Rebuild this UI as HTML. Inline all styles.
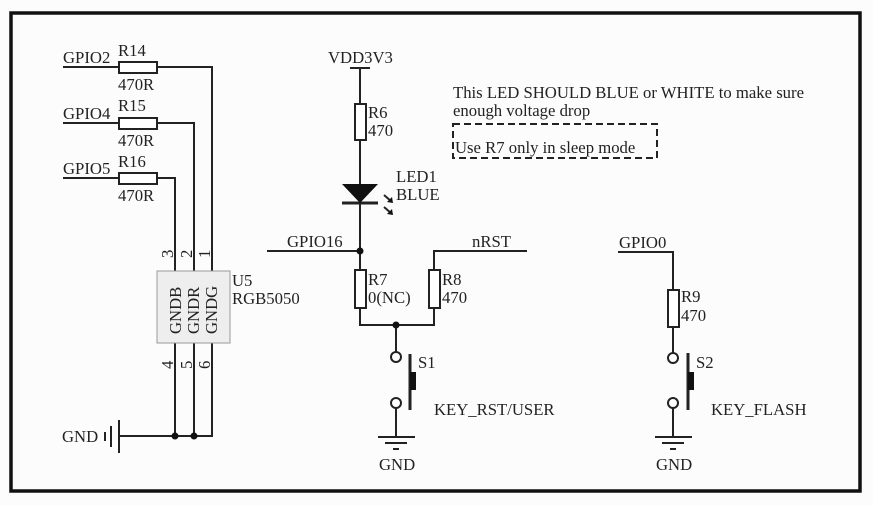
<!DOCTYPE html>
<html><head><style>html,body{margin:0;padding:0;background:#fff;}svg{display:block}</style></head>
<body>
<svg width="873" height="505" viewBox="0 0 873 505" xmlns="http://www.w3.org/2000/svg" font-family="Liberation Serif, serif" font-size="16.7" fill="#222">
<rect x="0" y="0" width="873" height="505" fill="#fcfcfc"/>
<rect x="11" y="13" width="849" height="478" fill="none" stroke="#111" stroke-width="3.5"/>
<g stroke="#222" stroke-width="2" fill="none">
<line x1="63" y1="67" x2="119" y2="67"/><rect x="119" y="62" width="38" height="11" fill="#fff"/><polyline points="157,67 212,67 212,271"/>
<line x1="63" y1="123" x2="119" y2="123"/><rect x="119" y="118" width="38" height="11" fill="#fff"/><polyline points="157,123 194,123 194,271"/>
<line x1="63" y1="178" x2="119" y2="178"/><rect x="119" y="173" width="38" height="11" fill="#fff"/><polyline points="157,178 175,178 175,271"/>
<line x1="175" y1="343" x2="175" y2="436"/><line x1="194" y1="343" x2="194" y2="436"/><polyline points="212,343 212,436 119,436"/>
<line x1="119" y1="420" x2="119" y2="453"/><line x1="111" y1="426" x2="111" y2="447"/><line x1="105" y1="432" x2="105" y2="441"/>
<line x1="350" y1="68" x2="370" y2="68"/><line x1="360" y1="68" x2="360" y2="104"/>
<rect x="355" y="104" width="11" height="36" fill="#fff"/>
<line x1="360" y1="140" x2="360" y2="184"/><line x1="342" y1="203" x2="378" y2="203" stroke-width="3"/>
<line x1="360" y1="203" x2="360" y2="270"/>
<line x1="267" y1="251" x2="360" y2="251"/>
<rect x="355" y="270" width="11" height="38" fill="#fff"/>
<polyline points="360,308 360,325 434,325 434,308"/>
<rect x="429" y="270" width="11" height="38" fill="#fff"/>
<polyline points="434,270 434,251 527,251"/>
<line x1="396" y1="325" x2="396" y2="352"/>
<circle cx="396" cy="357" r="5" fill="#fff"/><circle cx="396" cy="403" r="5" fill="#fff"/>
<line x1="396" y1="408" x2="396" y2="437"/>
<line x1="410" y1="354" x2="410" y2="410" stroke-width="3"/>
<line x1="378" y1="437" x2="415" y2="437"/><line x1="385" y1="443" x2="407" y2="443"/><line x1="393" y1="449" x2="399" y2="449"/>
<polyline points="618,252 673,252 673,290"/>
<rect x="668" y="290" width="11" height="37" fill="#fff"/>
<line x1="673" y1="327" x2="673" y2="353"/>
<circle cx="673" cy="358" r="5" fill="#fff"/><circle cx="673" cy="403" r="5" fill="#fff"/>
<line x1="673" y1="408" x2="673" y2="437"/>
<line x1="688" y1="353" x2="688" y2="410" stroke-width="3"/>
<line x1="655" y1="437" x2="692" y2="437"/><line x1="662" y1="443" x2="684" y2="443"/><line x1="670" y1="449" x2="676" y2="449"/>
<rect x="453" y="124" width="204" height="34" stroke-dasharray="7,4"/>
<line x1="384" y1="195" x2="392" y2="202"/><line x1="384" y1="207" x2="392" y2="214"/>
</g>
<rect x="157" y="271" width="73" height="72" fill="#eee" stroke="#999" stroke-width="1"/>
<polygon points="342,184 378,184 360,203" fill="#111"/>
<polygon points="393,203 387,202 392,197" fill="#111"/><polygon points="393,215 387,214 392,209" fill="#111"/>
<rect x="410" y="372" width="6" height="18" fill="#111"/><rect x="688" y="372" width="6" height="18" fill="#111"/>
<g fill="#111"><circle cx="360" cy="251" r="3.5"/><circle cx="396" cy="325" r="3.5"/><circle cx="175" cy="436" r="3.5"/><circle cx="194" cy="436" r="3.5"/></g>
<text x="63" y="63">GPIO2</text><text x="118" y="56">R14</text><text x="118" y="90">470R</text>
<text x="63" y="119">GPIO4</text><text x="118" y="111">R15</text><text x="118" y="146">470R</text>
<text x="63" y="174">GPIO5</text><text x="118" y="167">R16</text><text x="118" y="201">470R</text>
<text x="232" y="286">U5</text><text x="232" y="304">RGB5050</text>
<text x="62" y="442">GND</text>
<text transform="translate(173,258) rotate(-90)">3</text><text transform="translate(192,258) rotate(-90)">2</text><text transform="translate(210,258) rotate(-90)">1</text>
<text transform="translate(173,369) rotate(-90)">4</text><text transform="translate(192,369) rotate(-90)">5</text><text transform="translate(210,369) rotate(-90)">6</text>
<text transform="translate(181,334) rotate(-90)">GNDB</text><text transform="translate(199,334) rotate(-90)">GNDR</text><text transform="translate(217,334) rotate(-90)">GNDG</text>
<text x="328" y="63">VDD3V3</text>
<text x="368" y="118">R6</text><text x="368" y="136">470</text>
<text x="396" y="182">LED1</text><text x="396" y="200">BLUE</text>
<text x="287" y="247">GPIO16</text><text x="472" y="247">nRST</text>
<text x="368" y="285">R7</text><text x="368" y="303">0(NC)</text>
<text x="442" y="285">R8</text><text x="442" y="303">470</text>
<text x="418" y="368">S1</text><text x="434" y="415">KEY_RST/USER</text>
<text x="379" y="470">GND</text>
<text x="619" y="248">GPIO0</text>
<text x="681" y="302">R9</text><text x="681" y="321">470</text>
<text x="696" y="368">S2</text><text x="711" y="415">KEY_FLASH</text>
<text x="656" y="470">GND</text>
<text x="453" y="98">This LED SHOULD BLUE or WHITE to make sure</text>
<text x="453" y="116">enough voltage drop</text>
<text x="455" y="153">Use R7 only in sleep mode</text>
</svg>
</body></html>
